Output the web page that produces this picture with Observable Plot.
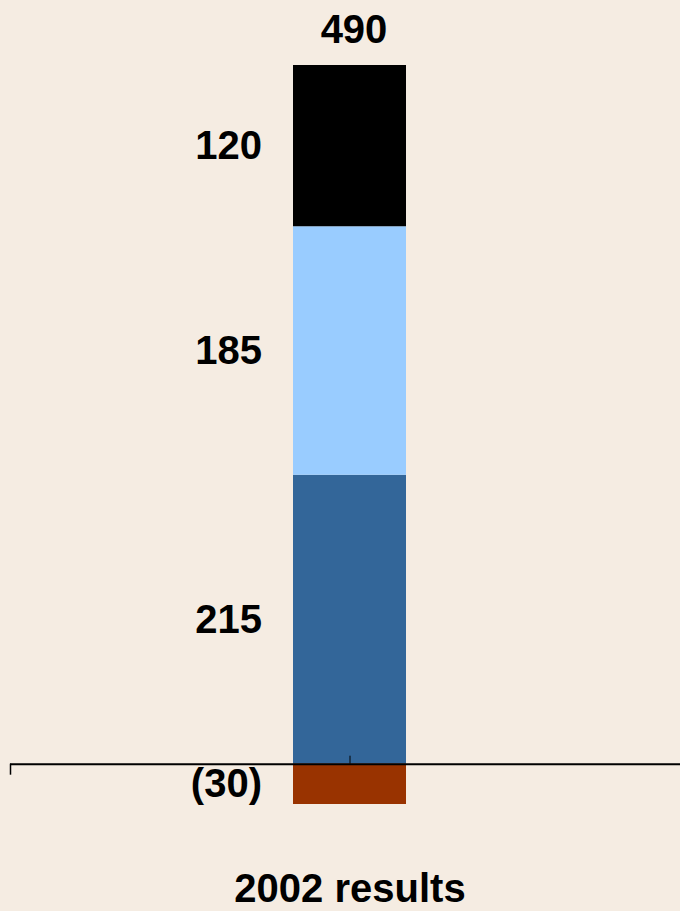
<!DOCTYPE html>
<html>
<head>
<meta charset="utf-8">
<script src="https://cdn.jsdelivr.net/npm/d3@7"></script>
<script src="https://cdn.jsdelivr.net/npm/@observablehq/plot@0.6"></script>
<style>
  html, body { margin: 0; padding: 0; background: #F5ECE2; }
  #chart svg { display: block; }
  #caption {
    width: 680px; box-sizing: border-box; padding-left: 20px;
    text-align: center; font: bold 40px "Liberation Sans", Arial, sans-serif;
    line-height: 45px; height: 45px; color: #000;
  }
</style>
</head>
<body>
<div id="chart"></div>
<div id="caption"></div>
<script>
// ---- data ----
const categories = ["2002 results"];
const components = ["Component A", "Component B", "Component C", "Component D"];
const values = [215, 185, 120, -30];
const colors = ["#336699", "#99CCFF", "#000000", "#993300"];

const data = components.map((c, i) => ({category: categories[0], component: c, value: values[i]}));
const total = d3.sum(values);
const fmt = v => v < 0 ? `(${Math.abs(v)})` : `${v}`;
const labelFont = {fontFamily: "'Liberation Sans', Arial, sans-serif", fontWeight: "bold", fontSize: 40, fill: "#000"};

const chart = Plot.plot({
  width: 680,
  height: 866,
  marginTop: 65,
  marginBottom: 62,
  marginLeft: 10,
  marginRight: 0,
  style: {background: "#F5ECE2", overflow: "visible"},
  x: {domain: categories, padding: 0.7114, align: 0.508, axis: null},
  y: {domain: [-30, 520], axis: null},
  color: {domain: components, range: colors},
  marks: [
    Plot.barY(data, {x: "category", y: "value", fill: "component"}),
    Plot.ruleY([0], {stroke: "#000", strokeWidth: 2}),
    Plot.ruleX(categories, {x: d => d, y1: 0, y2: 0, insetTop: -8, stroke: "#000", strokeWidth: 1}),
    (index, scales, values, dimensions) => {
      const y0 = scales.y(0);
      const g = d3.create("svg:g");
      g.append("line")
        .attr("x1", dimensions.marginLeft + 0.5).attr("x2", dimensions.marginLeft + 0.5)
        .attr("y1", y0).attr("y2", y0 + 11)
        .attr("stroke", "#000").attr("stroke-width", 1.5);
      return g.node();
    },
    Plot.text(data, Plot.stackY({
      x: "category", y: "value", text: d => fmt(d.value),
      textAnchor: "end", lineAnchor: "middle", dx: -88, ...labelFont
    })),
    Plot.text([{category: categories[0], total}], {
      x: "category", y: d => d3.sum(values.filter(v => v > 0)), text: d => fmt(d.total),
      lineAnchor: "middle", dy: -35, dx: 4, ...labelFont
    })
  ]
});
document.getElementById("chart").append(chart);
document.getElementById("caption").textContent = categories[0];
</script>
</body>
</html>
